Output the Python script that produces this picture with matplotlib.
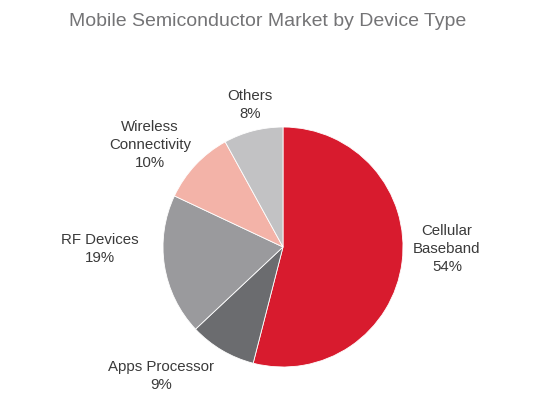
import matplotlib
matplotlib.use("Agg")
import matplotlib.pyplot as plt

plt.rcParams["font.family"] = ["Liberation Sans", "DejaVu Sans"]

categories = ["Cellular\nBaseband", "Apps Processor", "RF Devices", "Wireless\nConnectivity", "Others"]
values = [54, 9, 19, 10, 8]
colors = ["#d81b2e", "#6b6c6f", "#9a9a9d", "#f3b3a8", "#c2c2c4"]

fig = plt.figure(figsize=(5.5, 4.12), dpi=100)
ax = fig.add_axes([0, 0, 1, 1])

# y axis is inverted below, so counterclockwise in data = clockwise on screen
ax.pie(values, colors=colors, startangle=-90, counterclock=True,
       center=(283, 247), radius=120, frame=True,
       wedgeprops=dict(edgecolor="white", linewidth=0.6))
ax.set_xlim(0, 550)
ax.set_ylim(412, 0)
ax.set_aspect("equal")
ax.axis("off")

label_pos = [(447, 249), (161, 376), (100, 249), (150, 145), (250, 105)]
for cat, v, (x, y) in zip(categories, values, label_pos):
    ax.text(x, y, f"{cat}\n{v}%", ha="center", va="center",
            fontsize=10.8, color="#3a3a3a", linespacing=1.4)

ax.text(268, 21, "Mobile Semiconductor Market by Device Type", ha="center", va="center",
        fontsize=14, color="#747476")

fig.savefig("out.png", dpi=100)
